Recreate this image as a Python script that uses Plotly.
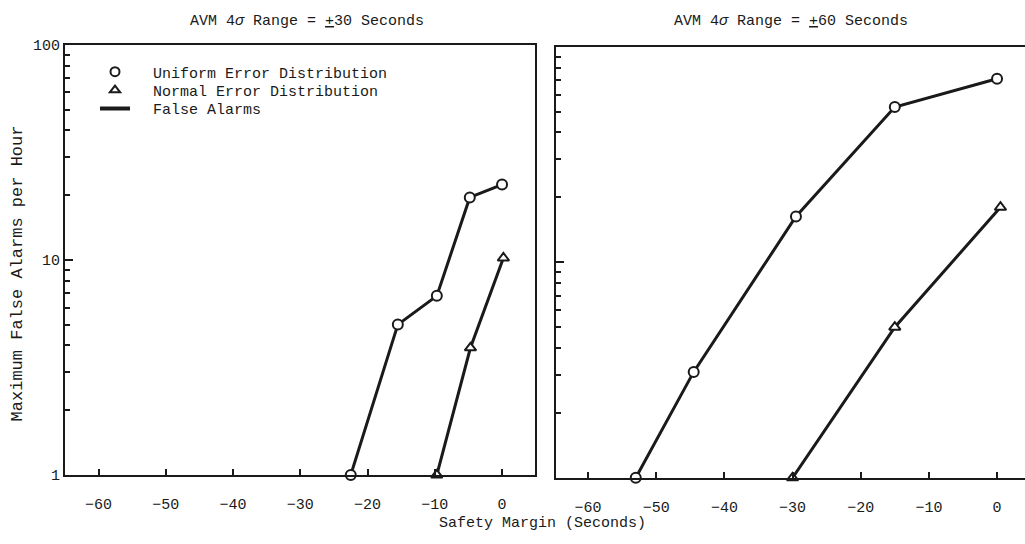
import plotly.graph_objects as go

# ---- data ----
uniform30_x = [-22.5, -15.5, -9.7, -4.8, 0.0]
uniform30_y = [1.0, 5.0, 6.8, 19.5, 22.4]
normal30_x = [-9.7, -4.7, 0.2]
normal30_y = [1.0, 3.9, 10.2]

uniform60_x = [-53.0, -44.5, -29.5, -15.0, 0.0]
uniform60_y = [1.0, 3.1, 16.3, 52.5, 71.0]
normal60_x = [-30.0, -15.0, 0.5]
normal60_y = [1.0, 5.0, 18.0]

x_ticks = [-60, -50, -40, -30, -20, -10, 0]
y_ticks = [1, 10, 100]
y_tick_text = ["1", "10", "100"]
y_minor = [2, 3, 4, 5, 6, 7, 8, 9, 20, 30, 40, 50, 60, 70, 80, 90]

panel_titles = ["AVM 4<i>σ</i> Range = <u>+</u>30 Seconds",
                "AVM 4<i>σ</i> Range = <u>+</u>60 Seconds"]
legend_labels = ["Uniform Error Distribution", "Normal Error Distribution", "False Alarms"]
x_title = "Safety Margin (Seconds)"
y_title = "Maximum False Alarms per Hour"

# ---- style ----
FONT = "Liberation Mono, Courier New, monospace"
INK = "#1a1a1a"
W, H = 1025, 544
PAD = "\u00a0\u00a0"

fig = go.Figure()

def series(x, y, symbol, xa, ya):
    fig.add_trace(go.Scatter(
        x=x, y=y, xaxis=xa, yaxis=ya, mode="lines+markers",
        line=dict(color=INK, width=3),
        marker=dict(symbol=symbol, size=10, color="white",
                    line=dict(color=INK, width=2)),
        cliponaxis=False, showlegend=False, hoverinfo="x+y"))

series(uniform30_x, uniform30_y, "circle", "x", "y")
series(normal30_x, normal30_y, "triangle-up", "x", "y")
series(uniform60_x, uniform60_y, "circle", "x2", "y2")
series(normal60_x, normal60_y, "triangle-up", "x2", "y2")

# legend entries, one legend per row so the rows sit where the reference has them
fig.add_trace(go.Scatter(x=[None], y=[None], mode="markers", name=PAD + legend_labels[0],
                         legend="legend",
                         marker=dict(symbol="circle-open", size=9, color=INK, line=dict(width=2))))
fig.add_trace(go.Scatter(x=[None], y=[None], mode="markers", name=PAD + legend_labels[1],
                         legend="legend2",
                         marker=dict(symbol="triangle-up-open", size=9, color=INK, line=dict(width=2))))
fig.add_trace(go.Scatter(x=[None], y=[None], mode="lines", name=PAD + legend_labels[2],
                         legend="legend3",
                         line=dict(color=INK, width=4)))

xcommon = dict(tickvals=x_ticks, ticks="inside", ticklen=6, tickwidth=2, tickcolor=INK,
               showline=True, linecolor=INK, linewidth=2, showgrid=False, zeroline=False,
               tickfont=dict(family=FONT, size=15, color=INK), ticklabelstandoff=14)
ycommon = dict(type="log", range=[0, 2], tickvals=y_ticks, ticktext=y_tick_text,
               ticks="inside", ticklen=8, tickwidth=2, tickcolor=INK,
               minor=dict(tickvals=y_minor, ticks="inside", ticklen=5, tickwidth=2, tickcolor=INK),
               showline=True, linecolor=INK, linewidth=2, showgrid=False, zeroline=False,
               tickfont=dict(family=FONT, size=15, color=INK))

def leg(row_center):
    return dict(x=95 / W, y=1 - (row_center - 22) / H, xanchor="left", yanchor="top",
                bgcolor="rgba(0,0,0,0)", font=dict(family=FONT, size=15, color=INK),
                itemwidth=30)

fig.update_layout(
    width=W, height=H, margin=dict(l=0, r=0, t=0, b=0),
    paper_bgcolor="white", plot_bgcolor="white",
    font=dict(family=FONT, size=15, color=INK),
    xaxis=dict(domain=[65 / W, 535 / W], range=[-65.0, 4.9], anchor="y", mirror=True, **xcommon),
    yaxis=dict(domain=[61 / H, 505 / H], anchor="x", mirror=True, **ycommon),
    xaxis2=dict(domain=[556 / W, 1.0], range=[-64.7, 4.1], anchor="y2", mirror=True, **xcommon),
    yaxis2=dict(domain=[58 / H, 503 / H], anchor="x2", showticklabels=False, **ycommon),
    legend=leg(72), legend2=leg(91), legend3=leg(110),
    showlegend=True,
)

annots = [
    dict(text=panel_titles[0], x=307 / W, y=1 - 15 / H, size=15, yanchor="middle"),
    dict(text=panel_titles[1], x=791 / W, y=1 - 15 / H, size=15, yanchor="middle"),
    dict(text=x_title, x=542 / W, y=0.0, size=15, yanchor="bottom"),
    dict(text=y_title, x=17 / W, y=1 - 275 / H, size=17, yanchor="middle", textangle=-90),
]
for a in annots:
    size = a.pop("size")
    fig.add_annotation(xref="paper", yref="paper", showarrow=False, xanchor="center",
                       font=dict(family=FONT, size=size, color=INK), **a)

fig.write_html("out.html")
